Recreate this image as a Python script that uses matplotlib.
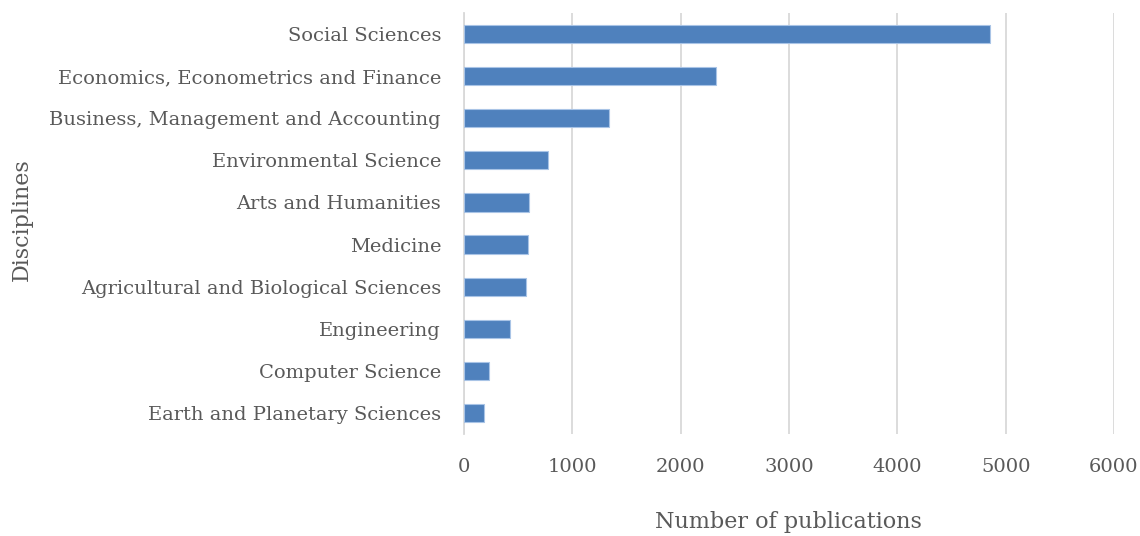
import matplotlib
matplotlib.use("Agg")
import matplotlib.pyplot as plt

categories = [
    "Social Sciences",
    "Economics, Econometrics and Finance",
    "Business, Management and Accounting",
    "Environmental Science",
    "Arts and Humanities",
    "Medicine",
    "Agricultural and Biological Sciences",
    "Engineering",
    "Computer Science",
    "Earth and Planetary Sciences",
]
publications = [4851, 2325, 1341, 776, 602, 593, 575, 424, 232, 189]
xticks = [0, 1000, 2000, 3000, 4000, 5000, 6000]

plt.rcParams['font.family'] = ['DejaVu Serif']
text_color = '#595959'

fig = plt.figure(figsize=(11.4, 5.36), dpi=100)
ax = fig.add_axes([464/1140, 1 - 434/536, (1114-464)/1140, 421/536])

y = list(range(len(categories)))
ax.barh(y, publications, height=0.43, color='#4f81bd', edgecolor='#a9c4e6', linewidth=0.8, zorder=3)
ax.set_ylim(len(categories) - 0.5, -0.5)
ax.set_xlim(0, 6000)
ax.set_yticks(y)
ax.set_yticklabels(categories, fontsize=14, color=text_color)
ax.set_xticks(xticks)
ax.set_xticklabels([str(t) for t in xticks], fontsize=14, color=text_color)
ax.tick_params(axis='both', length=0)
ax.tick_params(axis='y', pad=16.5)
ax.tick_params(axis='x', pad=17)
ax.grid(axis='x', color='#d9d9d9', linewidth=1.3, zorder=0)
for s in ['top', 'right', 'bottom']:
    ax.spines[s].set_visible(False)
ax.spines['left'].set_color('#d9d9d9')
ax.spines['left'].set_linewidth(1.3)

fig.text(788/1140, 1 - 522/536, "Number of publications", fontsize=16, color=text_color, ha='center', va='center')
fig.text(22/1140, 1 - 220/536, "Disciplines", fontsize=16, color=text_color, ha='center', va='center', rotation=90)

fig.savefig("out.png", dpi=100)
